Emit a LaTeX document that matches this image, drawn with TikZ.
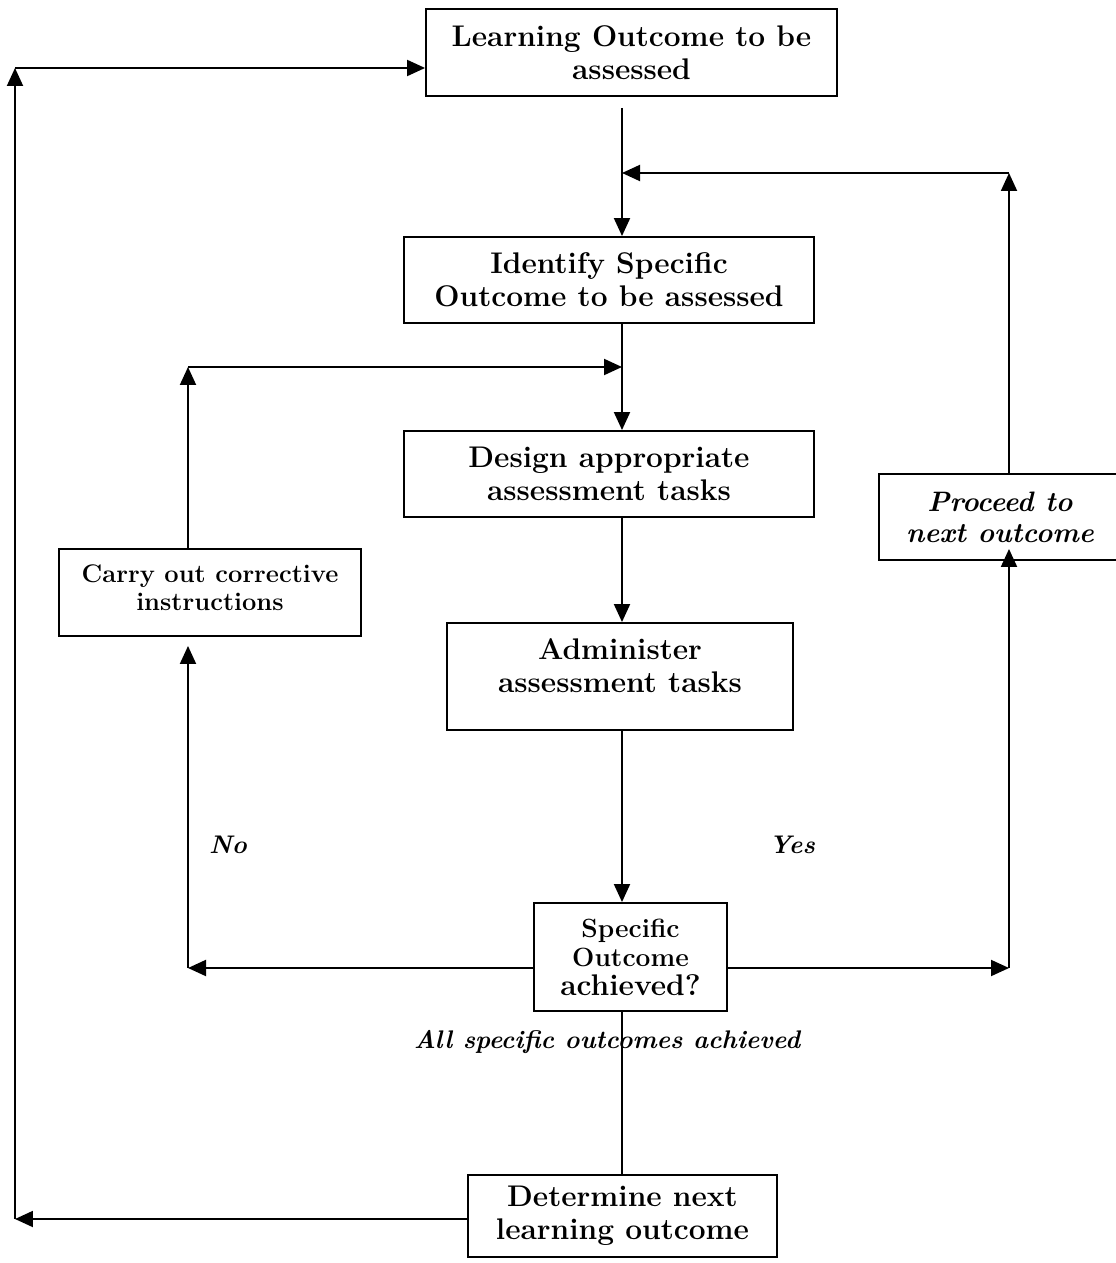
\documentclass[tikz,border=0pt]{standalone}
\usepackage{tikz}
\usetikzlibrary{arrows.meta, positioning, calc}

\begin{document}
\begin{tikzpicture}[x=0.02cm,y=-0.02cm]
    \tikzstyle{every node} = [font=\fontsize{17}{19}\selectfont\bfseries]
    \tikzstyle{block} = [draw, rectangle, line width=1.1pt, align=center, inner sep=2pt]
    \tikzstyle{link} = [line width=1.1pt, -{Triangle[length=0.36cm,width=0.32cm]}]
    \tikzstyle{plain} = [line width=1.1pt]
    \tikzstyle{tag} = [font=\fontsize{14.5}{16}\selectfont\bfseries\itshape]
    \useasboundingbox (0,0) rectangle (1115,1263);

    % place nodes
    \node[block, minimum width=8.22cm, minimum height=1.74cm] (learn) at (631.5,52.5) {Learning Outcome to be\\assessed};
    \node[block, minimum width=8.2cm, minimum height=1.72cm] (ident) at (609,280) {Identify Specific\\Outcome to be assessed};
    \node[block, minimum width=8.2cm, minimum height=1.72cm] (design) at (609,474) {Design appropriate\\assessment tasks};
    \node[block, minimum width=6.92cm, minimum height=2.14cm, text depth=0.45cm] (admin) at (620,676.5) {Administer\\assessment tasks};
    \node[block, minimum width=3.86cm, minimum height=2.16cm, font=\fontsize{15}{16.5}\selectfont\bfseries] (achieved) at (630.5,957) {Specific\\Outcome\\{\fontsize{17}{19}\selectfont achieved?}};
    \node[block, minimum width=6.18cm, minimum height=1.64cm] (determ) at (622.5,1216) {Determine next\\learning outcome};
    \node[block, minimum width=6.04cm, minimum height=1.74cm, text depth=0.2cm, font=\fontsize{14.5}{15.5}\selectfont\bfseries] (carry) at (210,592.5) {Carry out corrective\\instructions};
    \node[block, minimum width=4.84cm, minimum height=1.72cm, font=\fontsize{16}{17.5}\selectfont\bfseries\itshape] (proceed) at (1000,517) {Proceed to\\next outcome};

    \node[tag] (no) at (228,845) {No};
    \node[tag] (yes) at (792,845) {Yes};
    \node[tag] (allspec) at (607,1042) {All specific outcomes achieved};

    % corners
    \coordinate (midx) at (622,108);
    \coordinate (backR) at (1009,173);
    \coordinate (backL) at (188,367);
    \coordinate (noL) at (188,968);
    \coordinate (yesR) at (1009,968);
    \coordinate (farL) at (15,1219);
    \coordinate (farT) at (15,68);

    % Connections
    \draw[link] (midx) -- (midx |- ident.north);
    \draw[link] (backR |- proceed.north) -- (backR);
    \draw[link] (backR) -- (midx |- backR);
    \draw[link] (midx |- ident.south) -- (midx |- design.north);
    \draw[link] (backL |- carry.north) -- (backL);
    \draw[link] (backL) -- (midx |- backL);
    \draw[link] (midx |- design.south) -- (midx |- admin.north);
    \draw[link] (midx |- admin.south) -- (midx |- achieved.north);

    \draw[link] (achieved.west |- noL) -- (noL);
    \draw[link] (noL) -- ($(backL |- carry.south)+(0,9)$);
    \draw[link] (achieved.east |- yesR) -- (yesR);
    \draw[link] (yesR) -- ($(backR |- proceed.south)+(0,-12)$);

    \draw[plain] (midx |- achieved.south) -- (midx |- determ.north);
    \draw[link] (determ.west |- farL) -- (farL);
    \draw[link] (farL) -- (farT);
    \draw[link] (farT) -- (farT -| learn.west);
\end{tikzpicture}
\end{document}
